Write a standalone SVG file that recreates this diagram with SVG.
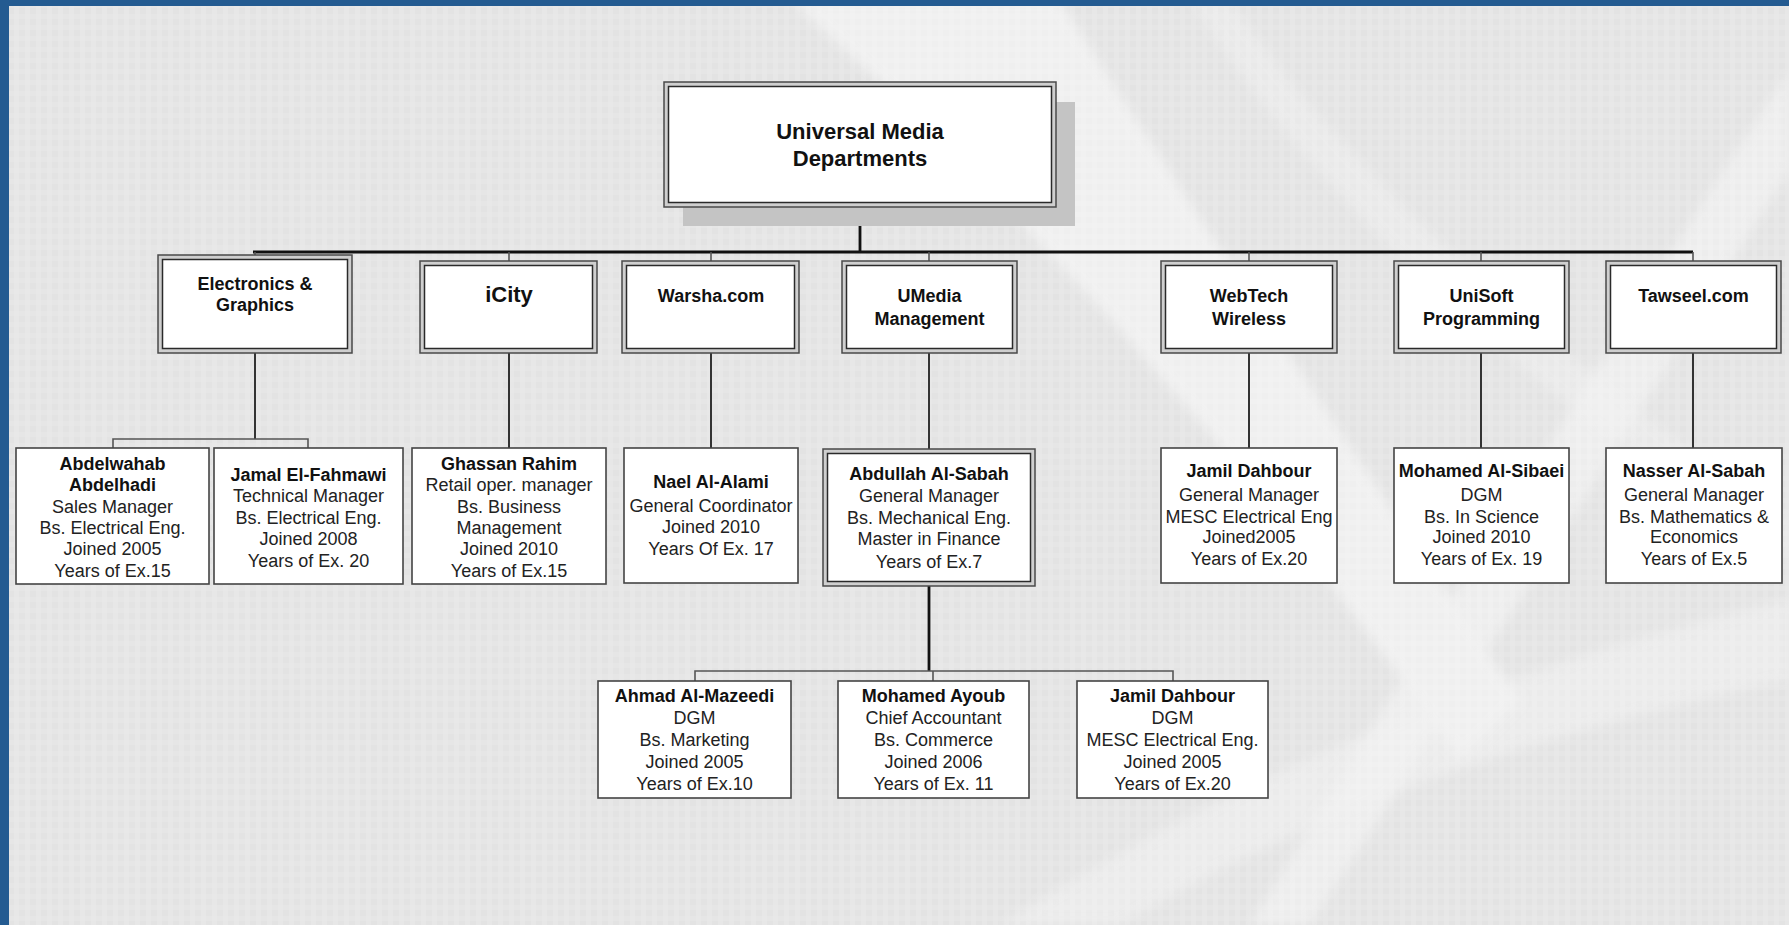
<svg xmlns="http://www.w3.org/2000/svg" width="1789" height="925" viewBox="0 0 1789 925">
<defs>
<style>
.dOut{fill:#cfcfcf;stroke:#4a4a4a;stroke-width:1.5}
.dIn{fill:#fff;stroke:#2a2a2a;stroke-width:1.5}
.pBox{fill:#fff;stroke:#444;stroke-width:1.6}
.t{font-family:"Liberation Sans",Arial,sans-serif;font-size:18px;fill:#222;text-anchor:middle}
.b{font-weight:bold;fill:#111}
.big{font-size:22px}
.main{stroke:#111;stroke-width:2.8;fill:none}
.sub{stroke:#333;stroke-width:2;fill:none}
.tick{stroke:#555;stroke-width:1.6;fill:none}
.swoosh{fill:#fff}
</style>
<pattern id="grid" width="11" height="11" patternUnits="userSpaceOnUse">
<rect width="11" height="11" fill="#e3e3e3"/>
<rect x="3" width="5" height="11" fill="#eaeaea" opacity="0.6"/>
<rect y="3" width="11" height="5" fill="#eaeaea" opacity="0.5"/>
</pattern>
<filter id="blur" x="-20%" y="-20%" width="140%" height="140%"><feGaussianBlur stdDeviation="6"/></filter>
</defs>
<g id="background">
<rect width="1789" height="925" fill="url(#grid)"/>
<g filter="url(#blur)" opacity="0.45">
<path class="swoosh" d="M790,0 L1060,0 Q1250,300 1520,700 L1460,760 Q1150,320 790,0 Z"/>
<path class="swoosh" d="M1789,70 Q1560,420 1250,925 L1310,925 Q1600,480 1789,170 Z" opacity="0.8"/>
<path class="swoosh" d="M1000,925 Q1350,700 1789,600 L1789,680 Q1400,760 1120,925 Z" opacity="0.6"/>
<path class="swoosh" d="M1230,0 Q1400,250 1789,520 L1789,560 Q1380,300 1190,0 Z" opacity="0.5"/>
</g>
<rect x="0" y="0" width="1789" height="6" fill="#245b91"/>
<rect x="0" y="0" width="9" height="925" fill="#245b91"/>
</g>
<g id="connectors">
<path class="main" d="M860,207 V252 M253,252 H1693"/>
<path class="tick" d="M255,252 V255 M509,252 V261 M711,252 V261 M929,252 V261 M1249,252 V261 M1481,252 V261 M1693,252 V261"/>
<path class="sub" d="M255,353 V439 M509,353 V448 M711,353 V448 M929,353 V449 M1249,353 V448 M1481,353 V448 M1693,353 V448"/>
<path class="tick" d="M113,448 V439 H308 V448" stroke-width="2.4"/>
<path class="main" d="M929,586 V671" stroke-width="2.4"/>
<path class="tick" d="M695,681 V671 H1173 V681 M933,671 V681"/>
</g>
<g id="n-root">
<rect x="683" y="102" width="392" height="124" fill="#c4c4c4"/>
<rect class="dOut" x="664" y="82" width="392" height="125"/>
<rect class="dIn" x="668.5" y="86.5" width="383" height="116"/>
<text class="t b big" x="860" y="139">Universal Media</text>
<text class="t b big" x="860" y="166">Departments</text>
</g>
<g id="d-electronics">
<rect class="dOut" x="158" y="255" width="194" height="98"/>
<rect class="dIn" x="162.5" y="259.5" width="185" height="89"/>
<text class="t b" x="255" y="290">Electronics &amp;</text>
<text class="t b" x="255" y="311">Graphics</text>
</g>
<g id="d-icity">
<rect class="dOut" x="420" y="261" width="177" height="92"/>
<rect class="dIn" x="424.5" y="265.5" width="168" height="83"/>
<text class="t b big" x="509" y="302">iCity</text>
</g>
<g id="d-warsha">
<rect class="dOut" x="622" y="261" width="177" height="92"/>
<rect class="dIn" x="626.5" y="265.5" width="168" height="83"/>
<text class="t b" x="711" y="302">Warsha.com</text>
</g>
<g id="d-umedia">
<rect class="dOut" x="842" y="261" width="175" height="92"/>
<rect class="dIn" x="846.5" y="265.5" width="166" height="83"/>
<text class="t b" x="929.5" y="302">UMedia</text>
<text class="t b" x="929.5" y="325">Management</text>
</g>
<g id="d-webtech">
<rect class="dOut" x="1161" y="261" width="176" height="92"/>
<rect class="dIn" x="1165.5" y="265.5" width="167" height="83"/>
<text class="t b" x="1249" y="302">WebTech</text>
<text class="t b" x="1249" y="325">Wireless</text>
</g>
<g id="d-unisoft">
<rect class="dOut" x="1394" y="261" width="175" height="92"/>
<rect class="dIn" x="1398.5" y="265.5" width="166" height="83"/>
<text class="t b" x="1481.5" y="302">UniSoft</text>
<text class="t b" x="1481.5" y="325">Programming</text>
</g>
<g id="d-tawseel">
<rect class="dOut" x="1606" y="261" width="175" height="92"/>
<rect class="dIn" x="1610.5" y="265.5" width="166" height="83"/>
<text class="t b" x="1693.5" y="302">Tawseel.com</text>
</g>
<g id="p-abdelwahab">
<rect class="pBox" x="16" y="448" width="193" height="136"/>
<text class="t b" x="112.5" y="470">Abdelwahab</text>
<text class="t b" x="112.5" y="491">Abdelhadi</text>
<text class="t" x="112.5" y="513">Sales Manager</text>
<text class="t" x="112.5" y="534">Bs. Electrical Eng.</text>
<text class="t" x="112.5" y="555">Joined 2005</text>
<text class="t" x="112.5" y="577">Years of Ex.15</text>
</g>
<g id="p-jamal">
<rect class="pBox" x="214" y="448" width="189" height="136"/>
<text class="t b" x="308.5" y="481">Jamal El-Fahmawi</text>
<text class="t" x="308.5" y="502">Technical Manager</text>
<text class="t" x="308.5" y="524">Bs. Electrical Eng.</text>
<text class="t" x="308.5" y="545">Joined 2008</text>
<text class="t" x="308.5" y="567">Years of Ex. 20</text>
</g>
<g id="p-ghassan">
<rect class="pBox" x="412" y="448" width="194" height="136"/>
<text class="t b" x="509" y="470">Ghassan Rahim</text>
<text class="t" x="509" y="491">Retail oper. manager</text>
<text class="t" x="509" y="513">Bs. Business</text>
<text class="t" x="509" y="534">Management</text>
<text class="t" x="509" y="555">Joined 2010</text>
<text class="t" x="509" y="577">Years of Ex.15</text>
</g>
<g id="p-nael">
<rect class="pBox" x="624" y="448" width="174" height="135"/>
<text class="t b" x="711" y="488">Nael Al-Alami</text>
<text class="t" x="711" y="512">General Coordinator</text>
<text class="t" x="711" y="533">Joined 2010</text>
<text class="t" x="711" y="555">Years Of Ex. 17</text>
</g>
<g id="p-abdullah">
<rect class="dOut" x="823" y="449" width="212" height="137"/>
<rect class="dIn" x="827.5" y="453.5" width="203" height="128"/>
<text class="t b" x="929" y="480">Abdullah Al-Sabah</text>
<text class="t" x="929" y="502">General Manager</text>
<text class="t" x="929" y="524">Bs. Mechanical Eng.</text>
<text class="t" x="929" y="545">Master in Finance</text>
<text class="t" x="929" y="568">Years of Ex.7</text>
</g>
<g id="p-jamil-gm">
<rect class="pBox" x="1161" y="448" width="176" height="135"/>
<text class="t b" x="1249" y="477">Jamil Dahbour</text>
<text class="t" x="1249" y="501">General Manager</text>
<text class="t" x="1249" y="523">MESC Electrical Eng</text>
<text class="t" x="1249" y="543">Joined2005</text>
<text class="t" x="1249" y="565">Years of Ex.20</text>
</g>
<g id="p-mohamed-sibaei">
<rect class="pBox" x="1394" y="448" width="175" height="135"/>
<text class="t b" x="1481.5" y="477">Mohamed Al-Sibaei</text>
<text class="t" x="1481.5" y="501">DGM</text>
<text class="t" x="1481.5" y="523">Bs. In Science</text>
<text class="t" x="1481.5" y="543">Joined 2010</text>
<text class="t" x="1481.5" y="565">Years of Ex. 19</text>
</g>
<g id="p-nasser">
<rect class="pBox" x="1606" y="448" width="176" height="135"/>
<text class="t b" x="1694" y="477">Nasser Al-Sabah</text>
<text class="t" x="1694" y="501">General Manager</text>
<text class="t" x="1694" y="523">Bs. Mathematics &amp;</text>
<text class="t" x="1694" y="543">Economics</text>
<text class="t" x="1694" y="565">Years of Ex.5</text>
</g>
<g id="p-ahmad">
<rect class="pBox" x="598" y="681" width="193" height="117"/>
<text class="t b" x="694.5" y="702">Ahmad Al-Mazeedi</text>
<text class="t" x="694.5" y="724">DGM</text>
<text class="t" x="694.5" y="746">Bs. Marketing</text>
<text class="t" x="694.5" y="768">Joined 2005</text>
<text class="t" x="694.5" y="790">Years of Ex.10</text>
</g>
<g id="p-ayoub">
<rect class="pBox" x="838" y="681" width="191" height="117"/>
<text class="t b" x="933.5" y="702">Mohamed Ayoub</text>
<text class="t" x="933.5" y="724">Chief Accountant</text>
<text class="t" x="933.5" y="746">Bs. Commerce</text>
<text class="t" x="933.5" y="768">Joined 2006</text>
<text class="t" x="933.5" y="790">Years of Ex. 11</text>
</g>
<g id="p-jamil-dgm">
<rect class="pBox" x="1077" y="681" width="191" height="117"/>
<text class="t b" x="1172.5" y="702">Jamil Dahbour</text>
<text class="t" x="1172.5" y="724">DGM</text>
<text class="t" x="1172.5" y="746">MESC Electrical Eng.</text>
<text class="t" x="1172.5" y="768">Joined 2005</text>
<text class="t" x="1172.5" y="790">Years of Ex.20</text>
</g>
</svg>
